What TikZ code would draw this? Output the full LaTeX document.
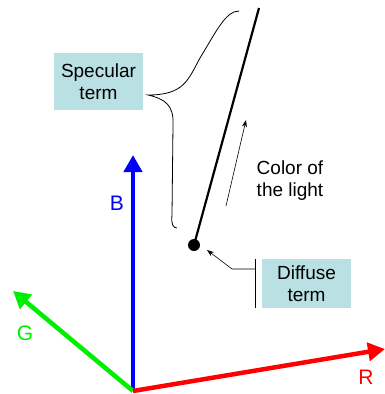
\documentclass[tikz,border=0pt]{standalone}
\usepackage{fontspec}
\setmainfont{Liberation Sans}
\usetikzlibrary{arrows.meta}
\definecolor{boxcyan}{HTML}{B9E0E3}
\definecolor{axred}{HTML}{FF0000}
\definecolor{axgreen}{HTML}{00EE00}
\definecolor{axblue}{HTML}{0000FF}
\tikzset{
  axis/.style={line width=4.5pt,-{Triangle[length=17pt,width=18pt]}},
  termbox/.style={fill=boxcyan,inner sep=0pt,align=center,font=\fontsize{19}{22}\selectfont},
  lbl/.style={font=\fontsize{21}{24}\selectfont},
  thinarrow/.style={line width=0.6pt,-{Stealth[length=7pt,width=5pt]}}
}
\begin{document}
\begin{tikzpicture}[x=1pt,y=-1pt]
\useasboundingbox (0,0) rectangle (384,394);
\coordinate (O) at (133,391);
\coordinate (Btip) at (133,155);
\coordinate (Gtip) at (13,291);
\coordinate (Rtip) at (385,349);
\draw[axis,axblue] (O) -- (Btip);
\draw[axis,axgreen] (O) -- (Gtip);
\draw[axis,axred] (O) -- (Rtip);
\node[lbl,text=axblue] (B) at (117,203) {B};
\node[lbl,text=axgreen] (G) at (25,333) {G};
\node[lbl,text=axred] (R) at (366,377) {R};
% light line
\coordinate (top) at (259,8);
\node[circle,fill=black,inner sep=0pt,minimum size=12pt] (dot) at (194,245) {};
\draw[line width=2.2pt] (dot.center) -- (top);
% specular brace
\node[termbox,minimum width=89pt,minimum height=57pt] (spec) at (98.5,81.5) {Specular\\term};
\coordinate (tip) at (148,95);
\draw[line width=0.8pt] (239,11) .. controls (226,11) and (217,30) .. (200,58)
  .. controls (188,80) and (184,95) .. (tip)
  .. controls (165,99) and (174,105) .. (173,125) -- (172,215)
  .. controls (171,224) and (173,228) .. (177,228);
% color arrow
\coordinate (ca) at (226,206);
\coordinate (cb) at (246,120);
\draw[thinarrow] (ca) -- (cb);
\node[termbox,fill=none] (col) at (290,181) {Color of\\the light};
% diffuse
\node[termbox,minimum width=89pt,minimum height=49pt] (diff) at (306.5,283.5) {Diffuse\\term};
\coordinate (v1) at (255,259);
\coordinate (v2) at (255,308);
\draw[line width=0.8pt] (v1) -- (v2);
\coordinate (h) at (232,269);
\draw[thinarrow] (255,269) -- (h) -- (207,250);
\end{tikzpicture}
\end{document}
